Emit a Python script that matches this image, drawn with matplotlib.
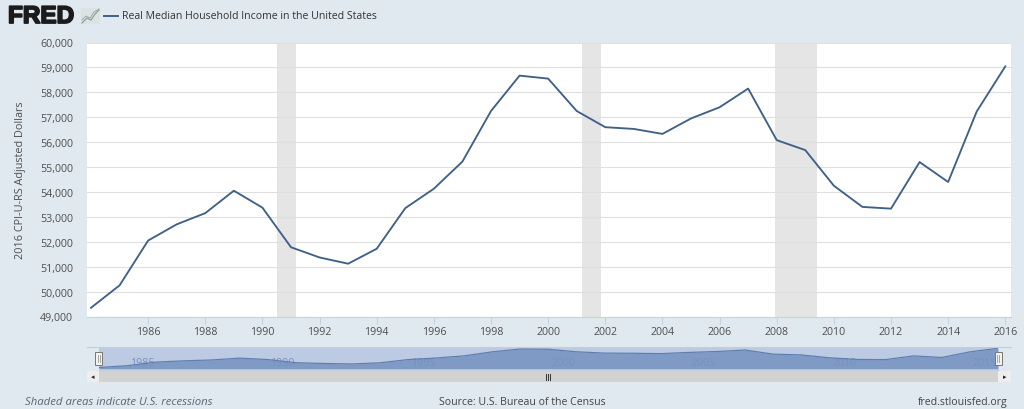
import matplotlib
matplotlib.use("Agg")
import matplotlib.pyplot as plt
import matplotlib.patheffects as pe
from matplotlib.patches import Rectangle
from matplotlib.ticker import FuncFormatter

years = list(range(1984, 2017))
income = [49350, 50250, 52050, 52700, 53150, 54050, 53370, 51780, 51370, 51120, 51720,
          53350, 54130, 55220, 57250, 58670, 58550, 57250, 56600, 56530, 56330, 56950,
          57400, 58150, 56080, 55680, 54250, 53400, 53330, 55200, 54400, 57230, 59040]
recessions = [(1990.5, 1991.17), (2001.2, 2001.85), (2007.95, 2009.42)]
x_ticks = list(range(1986, 2017, 2))
y_ticks = list(range(49000, 60001, 1000))
nav_labels = [1985, 1990, 1995, 2000, 2005, 2010, 2015]

BG = "#e1e9f0"
LINE = "#3f6187"
TEXT = "#4f4f4f"
W, H = 1024, 410

plt.rcParams["font.family"] = ["Open Sans", "DejaVu Sans"]

fig = plt.figure(figsize=(W / 100, H / 100), dpi=100, facecolor=BG)


def px_axes(left, top, right, bottom):
    return fig.add_axes([left / W, 1 - bottom / H, (right - left) / W, (bottom - top) / H])


# main chart
ax = px_axes(87, 43.5, 1011, 317.5)
ax.set_xlim(1983.86, 2016.2)
ax.set_ylim(49000, 60000)
for start, end in recessions:
    ax.axvspan(start, end, color="#e5e5e5", lw=0, zorder=1)
ax.plot(years, income, color=LINE, lw=1.35, zorder=3)
ax.set_yticks(y_ticks)
ax.yaxis.set_major_formatter(FuncFormatter(lambda v, _: f"{int(v):,}"))
ax.set_xticks(x_ticks)
ax.grid(axis="y", color="#dfdfdf", lw=0.8, zorder=2)
ax.set_axisbelow(False)
for side in ["top", "right", "left"]:
    ax.spines[side].set_visible(False)
ax.spines["bottom"].set_color("#c6d3de")
ax.tick_params(axis="y", length=0, pad=10.2, labelsize=7.7, labelcolor=TEXT)
ax.tick_params(axis="x", length=5, color="#c6d3de", pad=1.5, labelsize=7.7, labelcolor=TEXT)
ax.set_ylabel("2016 CPI-U-RS Adjusted Dollars", fontsize=7.8, color=TEXT, labelpad=10)

# navigator
nav = px_axes(99, 348, 998, 370)
nav.set_xlim(years[0], years[-1])
nav.set_ylim(48600, 59680)
nav.set_facecolor("#bccbe3")
nav.fill_between(years, income, 48600, color="#7f9bc5", lw=0)
nav.plot(years, income, color="#5f7fae", lw=0.9)
for yr in nav_labels:
    nav.annotate(str(yr), (yr, 51870), xytext=(2, 0), textcoords="offset points",
                 ha="left", va="center", fontsize=7.7, color="#7591bd", zorder=1)
nav.set_xticks([])
nav.set_yticks([])
for spine in nav.spines.values():
    spine.set_visible(False)

# everything around the chart, in pixel coordinates
over = fig.add_axes([0, 0, 1, 1], facecolor="none")
over.set_xlim(0, W)
over.set_ylim(H, 0)
over.axis("off")

over.add_patch(Rectangle((87, 372), 924, 11, fc="#d2d2d2", ec="none"))
over.add_patch(Rectangle((87, 372), 12, 11, fc="#eeeeee", ec="none"))
over.add_patch(Rectangle((998, 372), 13, 11, fc="#eeeeee", ec="none"))
over.plot([87, 1011], [348, 348], color="#c4cedb", lw=0.8)
over.plot([99, 998], [371, 371], color="#c4d0e0", lw=1)
over.text(93, 377.5, "◂", fontsize=5, ha="center", va="center", color="#222222", family="DejaVu Sans")
over.text(1004.5, 377.5, "▸", fontsize=5, ha="center", va="center", color="#222222", family="DejaVu Sans")
for grip_x in (546, 548, 550):
    over.plot([grip_x, grip_x], [374.5, 380.5], color="#333333", lw=0.7)
for handle_x in (98.5, 998):
    over.add_patch(Rectangle((handle_x - 3.5, 353), 7, 13, fc="#f2f2f2", ec="#777777", lw=0.7, zorder=5))
    over.plot([handle_x - 1, handle_x - 1], [356, 363], color="#999999", lw=0.6, zorder=6)
    over.plot([handle_x + 1, handle_x + 1], [356, 363], color="#999999", lw=0.6, zorder=6)

# header
logo = over.text(8, 17.5, "FRED", fontsize=17.5, fontweight="bold", family=["Liberation Sans", "DejaVu Sans"],
                 color="#1b1b1b", ha="left", va="center")
logo.set_path_effects([pe.withStroke(linewidth=1.3, foreground="#1b1b1b")])
over.add_patch(Rectangle((81, 9), 19, 16, fc="#dbe3e4", ec="none"))
over.plot([82, 87, 91, 95, 99], [24, 19, 21, 15, 11], color="#8aa586", lw=0.9)
over.plot([82, 86, 90, 94, 99], [21, 17, 19, 13, 10], color="#9aa9b8", lw=0.7)
over.plot([104, 118], [16.5, 16.5], color=LINE, lw=1.4)
over.text(122.5, 16.5, "Real Median Household Income in the United States", fontsize=7.6,
          color="#333333", ha="left", va="center")

# footer
over.text(25, 403, "Shaded areas indicate U.S. recessions", fontsize=8.2, style="italic",
          color="#5c6674", ha="left", va="center")
over.text(439, 403, "Source: U.S. Bureau of the Census", fontsize=7.6, color="#444444",
          ha="left", va="center")
over.text(1007, 403, "fred.stlouisfed.org", fontsize=7.6, color="#444444", ha="right", va="center")

fig.savefig("out.png", dpi=100, facecolor=BG)
